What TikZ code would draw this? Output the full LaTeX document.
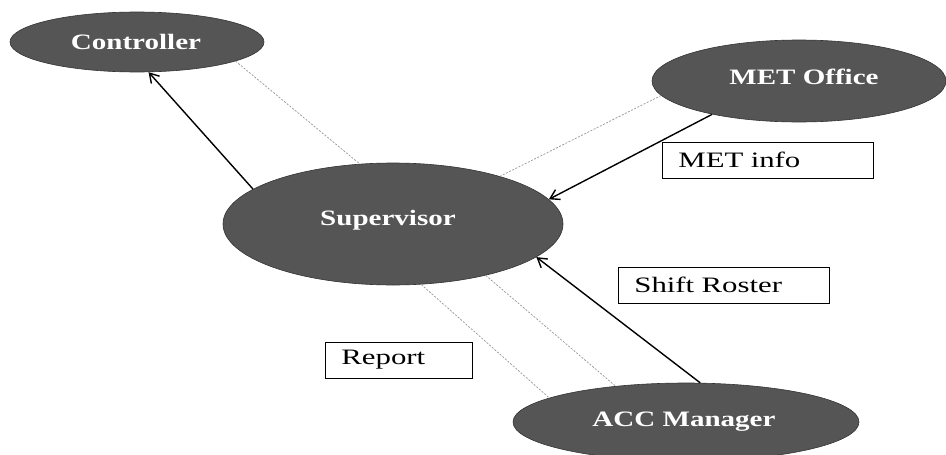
\documentclass[tikz,border=0pt]{standalone}
\usepackage{fontspec}
\usetikzlibrary{shapes.geometric,arrows.meta}
\newfontfamily\ellfont[FakeStretch=1.32]{Liberation Serif}
\newfontfamily\boxfont[FakeStretch=1.4]{Liberation Serif}
\definecolor{ellgray}{RGB}{85,85,85}
\definecolor{dotgray}{RGB}{150,150,150}
\tikzset{
  actor/.style={ellipse, draw=black!80, line width=0.6pt, fill=ellgray, inner sep=0pt},
  actortext/.style={text=white, inner sep=0pt, font=\ellfont\bfseries\fontsize{22}{26}\selectfont},
  flowlabel/.style={rectangle, draw=black, line width=0.8pt, fill=white, inner xsep=16pt,
    inner ysep=0pt, minimum height=36pt, align=left, anchor=west,
    font=\boxfont\fontsize{22}{26}\selectfont},
  flowarrow/.style={line width=1.4pt, -{Straight Barb[length=9pt,width=11pt,line width=1.4pt]}},
  faint/.style={draw=dotgray, line width=0.7pt, dash pattern=on 2pt off 1.5pt}
}
\begin{document}
\begin{tikzpicture}[x=1pt,y=1pt]
\useasboundingbox (0,0) rectangle (946,-455);
\clip (0,0) rectangle (946,-455);
\fill[white] (0,0) rectangle (946,-455);
% actors
\node[actor, minimum width=254pt, minimum height=60pt] (ctrl) at (137,-42) {};
\node[actortext] (ctrltext) at (136,-42) {Controller};
\node[actor, minimum width=294pt, minimum height=82pt] (met) at (799,-81) {};
\node[actortext] (mettext) at (804,-77) {MET Office};
\node[actor, minimum width=340pt, minimum height=122pt] (sup) at (393,-224) {};
\node[actortext] (suptext) at (388,-220) {Supervisor};
\node[actor, minimum width=346pt, minimum height=78pt] (acc) at (686,-422) {};
\node[actortext] (acctext) at (684,-422) {ACC Manager};
% faint dotted lines
\draw[faint] (ctrl.349.3) -- (sup.119.8);
\draw[faint] (met.186.8) -- (sup.24.2);
\draw[faint] (sup.295.5) -- (acc.170.3);
\draw[faint] (sup.331.4) -- (acc.153.8);
% arrows
\draw[flowarrow] (sup.166.8) -- (ctrl.291.5);
\draw[flowarrow] (met.201.8) -- (sup.9.7);
\draw[flowarrow] (acc.70) -- (sup.347.9);
% labels
\node[flowlabel, text width=179pt] (metinfo) at (662,-160) {MET info};
\node[flowlabel, text width=179pt] (shift) at (618,-285) {Shift Roster};
\node[flowlabel, text width=115pt] (report) at (325,-360) {Report};
\end{tikzpicture}
\end{document}
